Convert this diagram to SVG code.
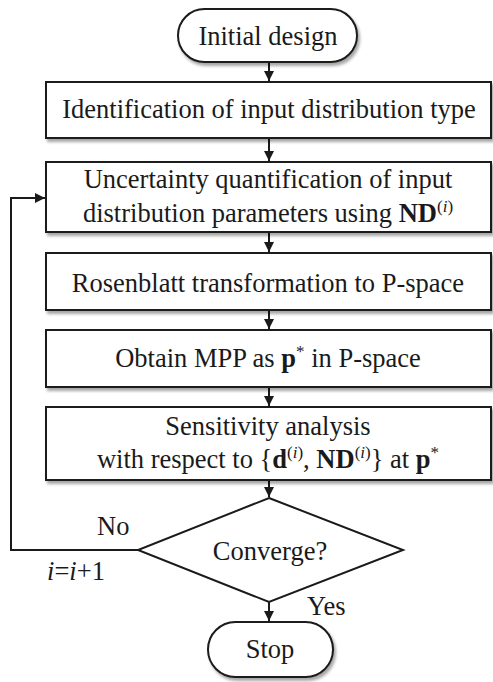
<svg xmlns="http://www.w3.org/2000/svg" width="493" height="682" viewBox="0 0 493 682">
  <style>
    .shape { fill: #ffffff; stroke: #1a1a1a; stroke-width: 2; }
    .edge { fill: none; stroke: #1a1a1a; stroke-width: 2; }
    text { fill: #1a1a1a; }
    .c { text-anchor: middle; }
    .b { font-weight: bold; }
    .it { font-style: italic; }
    .sup { font-size: 17px; }
  </style>
  <defs>
    <filter id="shadow" x="-5%" y="-5%" width="115%" height="130%">
      <feDropShadow dx="2" dy="3" stdDeviation="1.5" flood-color="#000" flood-opacity="0.35"/>
    </filter>
    <marker id="arrow" viewBox="0 0 10 10" refX="10" refY="5" markerWidth="5" markerHeight="5" orient="auto" markerUnits="strokeWidth">
      <path d="M0,0 L10,5 L0,10 z" fill="#1a1a1a"/>
    </marker>
  </defs>

  <!-- connectors -->
  <g id="connectors">
    <line class="edge" x1="269" y1="63" x2="269" y2="81" marker-end="url(#arrow)"/>
    <line class="edge" x1="269" y1="139" x2="269" y2="161" marker-end="url(#arrow)"/>
    <line class="edge" x1="269" y1="233" x2="269" y2="252" marker-end="url(#arrow)"/>
    <line class="edge" x1="269" y1="311" x2="269" y2="329" marker-end="url(#arrow)"/>
    <line class="edge" x1="269" y1="388" x2="269" y2="406" marker-end="url(#arrow)"/>
    <line class="edge" x1="269" y1="481" x2="269" y2="497" marker-end="url(#arrow)"/>
    <line class="edge" x1="269" y1="602" x2="269" y2="621" marker-end="url(#arrow)"/>
    <polyline class="edge" points="138,550 11,550 11,198 45,198" marker-end="url(#arrow)"/>
    <text font-family="Liberation Serif" font-size="26.5" x="97" y="535">No</text>
    <text font-family="Liberation Serif" font-size="26.5" x="47" y="580"><tspan class="it">i</tspan>=<tspan class="it">i</tspan>+1</text>
    <text font-family="Liberation Serif" font-size="26.5" x="307" y="615">Yes</text>
  </g>

  <g id="start">
    <rect class="shape" x="178" y="9" width="179" height="53" rx="26.5" filter="url(#shadow)"/>
    <text font-family="Liberation Serif" font-size="26.5" class="c" x="268" y="45">Initial design</text>
  </g>

  <g id="identify">
    <rect class="shape" x="46" y="82" width="445" height="56" filter="url(#shadow)"/>
    <text font-family="Liberation Serif" font-size="26.5" class="c" x="269" y="118">Identification of input distribution type</text>
  </g>

  <g id="quantify">
    <rect class="shape" x="46" y="162" width="445" height="70" filter="url(#shadow)"/>
    <text font-family="Liberation Serif" font-size="26.5" class="c" x="268" y="188">Uncertainty quantification of input</text>
    <text font-family="Liberation Serif" font-size="26.5" class="c" x="268" y="222">distribution parameters using <tspan class="b">ND</tspan><tspan class="sup" dy="-10">(<tspan class="it">i</tspan>)</tspan></text>
  </g>

  <g id="rosenblatt">
    <rect class="shape" x="46" y="253" width="445" height="57" filter="url(#shadow)"/>
    <text font-family="Liberation Serif" font-size="26.5" class="c" x="268" y="292">Rosenblatt transformation to P-space</text>
  </g>

  <g id="mpp">
    <rect class="shape" x="46" y="330" width="445" height="57" filter="url(#shadow)"/>
    <text font-family="Liberation Serif" font-size="26.5" class="c" x="268" y="367">Obtain MPP as <tspan class="b">p</tspan><tspan class="sup" dy="-10">*</tspan><tspan dy="10"> in P-space</tspan></text>
  </g>

  <g id="sensitivity">
    <rect class="shape" x="46" y="407" width="445" height="73" filter="url(#shadow)"/>
    <text font-family="Liberation Serif" font-size="26.5" class="c" x="268" y="435">Sensitivity analysis</text>
    <text font-family="Liberation Serif" font-size="26.5" class="c" x="268" y="468">with respect to {<tspan class="b">d</tspan><tspan class="sup" dy="-10">(<tspan class="it">i</tspan>)</tspan><tspan dy="10">, </tspan><tspan class="b">ND</tspan><tspan class="sup" dy="-10">(<tspan class="it">i</tspan>)</tspan><tspan dy="10">} at </tspan><tspan class="b">p</tspan><tspan class="sup" dy="-10">*</tspan></text>
  </g>

  <g id="converge">
    <polygon class="shape" points="269,498 403,550 269,602 138,550"/>
    <text font-family="Liberation Serif" font-size="26.5" class="c" x="270" y="560">Converge?</text>
  </g>

  <g id="stop">
    <rect class="shape" x="208" y="622" width="125" height="55" rx="27.5" filter="url(#shadow)"/>
    <text font-family="Liberation Serif" font-size="26.5" class="c" x="270" y="658">Stop</text>
  </g>
</svg>
